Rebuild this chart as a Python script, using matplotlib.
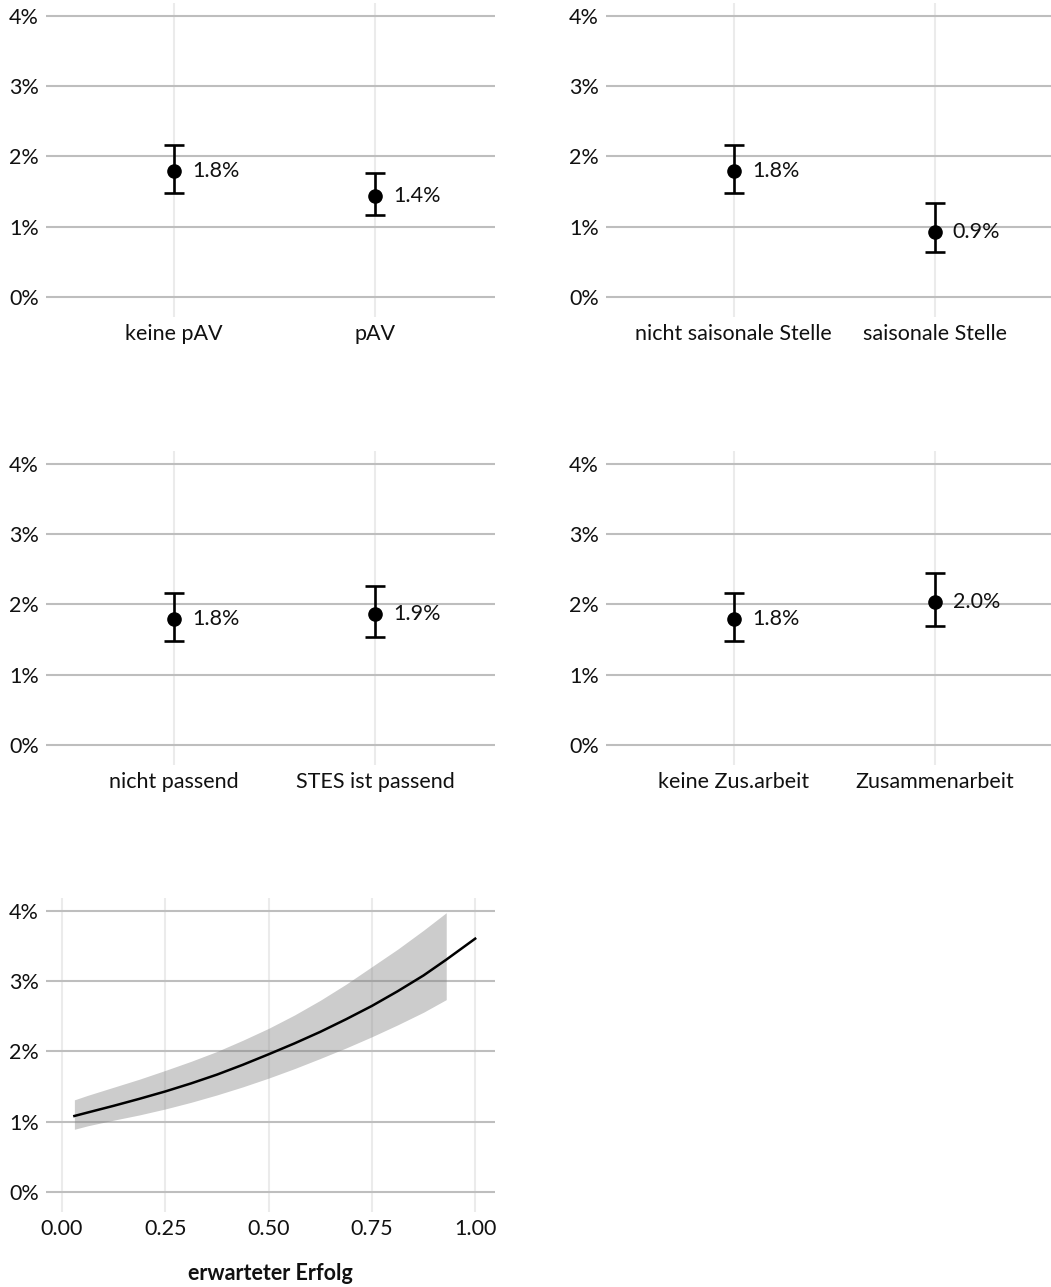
import numpy as np
import matplotlib
matplotlib.use("Agg")
import matplotlib.pyplot as plt

plt.rcParams['font.family'] = ['Lato', 'DejaVu Sans']

# --- data (percent) ---
cats_pav = ["keine pAV", "pAV"]
est_pav = [1.79, 1.43]
lo_pav = [1.48, 1.17]
hi_pav = [2.16, 1.77]

cats_saison = ["nicht saisonale Stelle", "saisonale Stelle"]
est_saison = [1.79, 0.92]
lo_saison = [1.48, 0.64]
hi_saison = [2.16, 1.34]

cats_stes = ["nicht passend", "STES ist passend"]
est_stes = [1.79, 1.86]
lo_stes = [1.48, 1.53]
hi_stes = [2.16, 2.26]

cats_zus = ["keine Zus.arbeit", "Zusammenarbeit"]
est_zus = [1.79, 2.03]
lo_zus = [1.48, 1.69]
hi_zus = [2.16, 2.45]

# erwarteter Erfolg -> predicted share
erfolg_x = [0.03, 0.0625, 0.125, 0.1875, 0.25, 0.3125, 0.375, 0.4375, 0.5,
            0.5625, 0.625, 0.6875, 0.75, 0.8125, 0.875, 0.93, 1.0]
erfolg_y = [1.08, 1.13, 1.225, 1.325, 1.43, 1.545, 1.67, 1.81, 1.96,
            2.115, 2.28, 2.46, 2.65, 2.86, 3.085, 3.31, 3.61]
band_x = [0.03, 0.0625, 0.125, 0.1875, 0.25, 0.3125, 0.375, 0.4375, 0.5,
          0.5625, 0.625, 0.6875, 0.75, 0.8125, 0.875, 0.93]
band_lo = [0.89, 0.94, 1.02, 1.095, 1.18, 1.275, 1.38, 1.495, 1.62,
           1.755, 1.90, 2.05, 2.21, 2.38, 2.56, 2.74]
band_hi = [1.31, 1.375, 1.49, 1.605, 1.73, 1.86, 2.00, 2.16, 2.33,
           2.52, 2.73, 2.96, 3.21, 3.46, 3.73, 3.98]

yticks = [0, 1, 2, 3, 4]
ytick_labels = ["0%", "1%", "2%", "3%", "4%"]

W, H = 1051, 1287
fig = plt.figure(figsize=(W / 100, H / 100), dpi=100)

FS = 15.5


def add_ax(left, top, right, bottom):
    return fig.add_axes([left / W, 1 - bottom / H, (right - left) / W, (bottom - top) / H])


def style(ax):
    for s in ax.spines.values():
        s.set_visible(False)
    ax.set_ylim(-0.29, 4.19)
    ax.set_yticks(yticks)
    ax.set_yticklabels(ytick_labels)
    ax.tick_params(length=0, labelsize=FS, colors="#111111")
    ax.tick_params(axis="y", pad=5)
    ax.tick_params(axis="x", pad=5)
    ax.grid(axis="y", color="#bebebe", lw=1.5)
    ax.grid(axis="x", color="#ebebeb", lw=1.5)
    ax.set_axisbelow(True)


def cat_panel(ax, cats, est, lo, hi, xmax=2.597):
    style(ax)
    xs = np.arange(1, len(cats) + 1)
    est = np.array(est)
    err = [est - np.array(lo), np.array(hi) - est]
    ax.errorbar(xs, est, yerr=err, fmt="o", color="black", ms=9.5, lw=1.9,
                capsize=7.2, capthick=1.9, zorder=3)
    for x, v in zip(xs, est):
        ax.annotate(f"{v:.1f}%", (x, v), xytext=(13, 0), textcoords="offset points",
                    ha="left", va="center", fontsize=FS, color="#111111")
    ax.set_xticks(xs)
    ax.set_xticklabels(cats)
    ax.set_xlim(0.363, xmax)


ax1 = add_ax(46, 3, 495, 317)
cat_panel(ax1, cats_pav, est_pav, lo_pav, hi_pav)

ax2 = add_ax(606, 3, 1051, 317)
cat_panel(ax2, cats_saison, est_saison, lo_saison, hi_saison, xmax=2.58)

ax3 = add_ax(46, 451, 495, 765)
cat_panel(ax3, cats_stes, est_stes, lo_stes, hi_stes)

ax4 = add_ax(606, 451, 1051, 765)
cat_panel(ax4, cats_zus, est_zus, lo_zus, hi_zus, xmax=2.58)

ax5 = add_ax(46, 898, 495, 1212)
style(ax5)
ax5.fill_between(band_x, band_lo, band_hi, color="grey", alpha=0.4, lw=0)
ax5.plot(erfolg_x, erfolg_y, color="black", lw=1.8)
ax5.set_xlim(-0.0387, 1.048)
ax5.set_xticks([0, 0.25, 0.5, 0.75, 1.0])
ax5.set_xticklabels(["0.00", "0.25", "0.50", "0.75", "1.00"])
ax5.set_xlabel("erwarteter Erfolg", fontsize=FS, fontweight="bold", labelpad=17, color="#111111")

fig.savefig("out.png", dpi=100, facecolor="white")
